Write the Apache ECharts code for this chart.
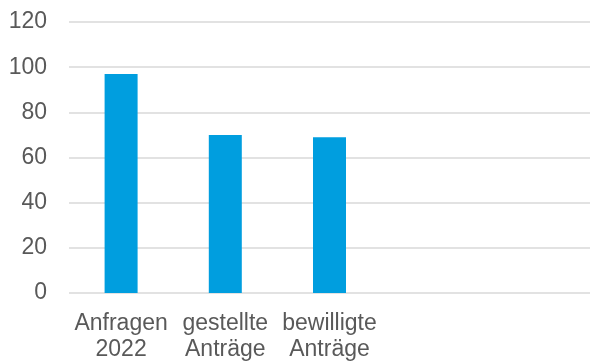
<!DOCTYPE html>
<html><head><meta charset="utf-8">
<script src="https://cdn.jsdelivr.net/npm/echarts@6/dist/echarts.min.js"></script>
<style>html,body{margin:0;padding:0;background:#fff}#c{width:590px;height:363px}</style>
</head><body><div id="c"></div>
<script>
const categories = ["Anfragen\n2022", "gestellte\nAnträge", "bewilligte\nAnträge", "", ""];
const values = [97, 70, 69, null, null];
const yTicks = {min: 0, max: 120, interval: 20};

const chart = echarts.init(document.getElementById('c'), null, {renderer: 'canvas'});
chart.setOption({
  animation: false,
  grid: {left: 69, right: 0, top: 22, bottom: 69, containLabel: false},
  xAxis: {
    type: 'category', data: categories,
    axisLine: {show: false}, axisTick: {show: false},
    axisLabel: {interval: 0, margin: 18, color: '#595959', fontFamily: 'Liberation Sans, Arial, sans-serif', fontSize: 23, lineHeight: 26}
  },
  yAxis: {
    type: 'value', min: yTicks.min, max: yTicks.max, interval: yTicks.interval,
    axisLine: {show: false}, axisTick: {show: false},
    axisLabel: {margin: 22, color: '#595959', fontFamily: 'Liberation Sans, Arial, sans-serif', fontSize: 23},
    splitLine: {lineStyle: {color: '#d9d9d9', width: 1.5}}
  },
  series: [{
    type: 'bar', data: values, barWidth: 33,
    itemStyle: {color: '#009EDF'}
  }]
});
</script></body></html>
